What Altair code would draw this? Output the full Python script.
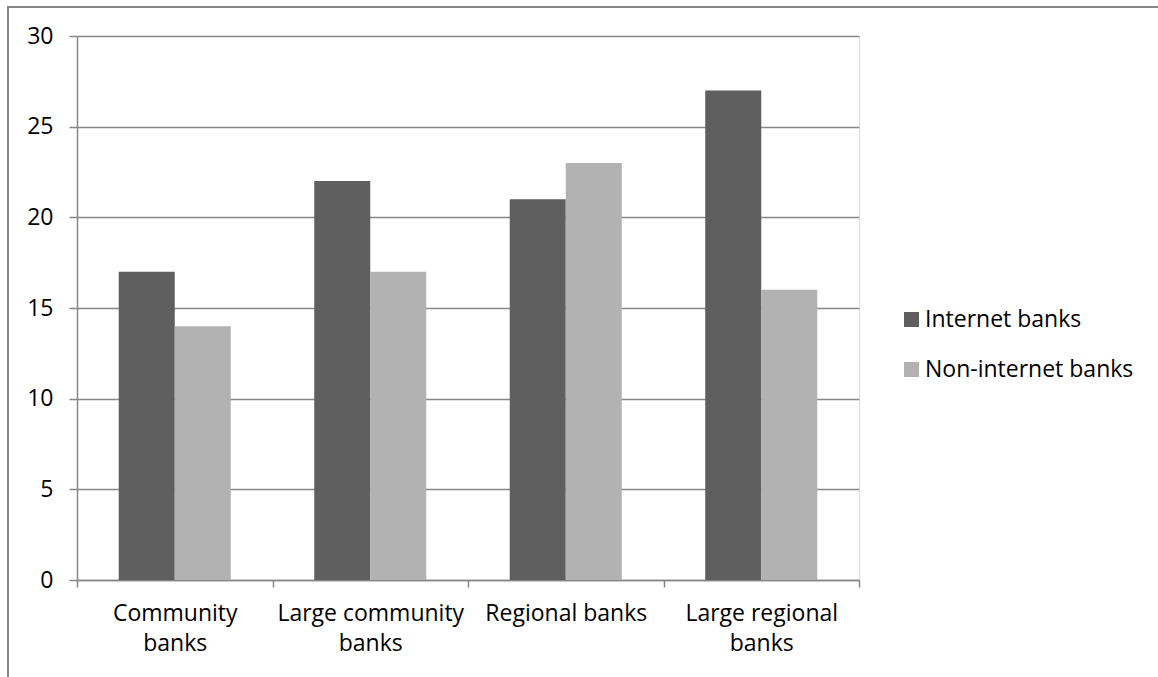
import altair as alt
import pandas as pd

# Bank groups and the two series plotted for each
categories = ["Community banks", "Large community banks", "Regional banks", "Large regional banks"]
series = ["Internet banks", "Non-internet banks"]
internet_values = [17, 22, 21, 27]
non_internet_values = [14, 17, 23, 16]

rows = []
for cat, a, b in zip(categories, internet_values, non_internet_values):
    rows.append({"category": cat, "series": series[0], "value": a})
    rows.append({"category": cat, "series": series[1], "value": b})
df = pd.DataFrame(rows)

FONT = "Open Sans"
FONT_SIZE = 23
GRID = "#878787"

# Wrap long category names onto two lines at the last space
label_expr = (
    "datum.label == 'Regional banks' ? datum.label : "
    "[substring(datum.label, 0, lastindexof(datum.label, ' ')), "
    "substring(datum.label, lastindexof(datum.label, ' ') + 1)]"
)

bars = alt.Chart(df).mark_bar().encode(
    x=alt.X(
        "category:N",
        sort=categories,
        title=None,
        scale=alt.Scale(paddingInner=0, paddingOuter=0),
        axis=alt.Axis(
            labelAngle=0,
            labelExpr=label_expr,
            labelFont=FONT,
            labelFontSize=FONT_SIZE,
            labelColor="#000000",
            labelPadding=15,
            labelLineHeight=30,
            labelLimit=300,
            tickBand="extent",
            tickSize=7,
            tickColor=GRID,
            tickWidth=1.5,
            domainColor=GRID,
            domainWidth=1.5,
            grid=False,
        ),
    ),
    xOffset=alt.XOffset(
        "series:N",
        sort=series,
        scale=alt.Scale(paddingInner=0, paddingOuter=0.745),
    ),
    y=alt.Y(
        "value:Q",
        title=None,
        scale=alt.Scale(domain=[0, 30], nice=False),
        axis=alt.Axis(
            values=[0, 5, 10, 15, 20, 25, 30],
            labelFont=FONT,
            labelFontSize=FONT_SIZE,
            labelColor="#000000",
            labelPadding=16,
            tickSize=8,
            tickColor=GRID,
            tickWidth=1.5,
            domainColor=GRID,
            domainWidth=1.5,
            gridColor=GRID,
            gridWidth=1.5,
        ),
    ),
    color=alt.Color(
        "series:N",
        sort=series,
        title=None,
        scale=alt.Scale(domain=series, range=["#5f5f5f", "#b2b2b2"]),
        legend=alt.Legend(
            orient="none",
            legendX=823,
            legendY=272,
            symbolType="square",
            symbolSize=225,
            symbolStrokeWidth=0,
            labelFont=FONT,
            labelFontSize=FONT_SIZE,
            labelColor="#000000",
            labelOffset=2,
            labelLimit=400,
            rowPadding=26,
        ),
    ),
)

# Outer chart frame
frame = alt.Chart(pd.DataFrame({"f": [0]})).mark_rect(
    fill=None, stroke=GRID, strokeWidth=2
).encode(
    x=alt.value(-69),
    x2=alt.value(1200),
    y=alt.value(-29),
    y2=alt.value(700),
)

chart = (
    alt.layer(frame, bars)
    .properties(
        width=782,
        height=544,
        padding={"left": 77, "top": 36, "right": 299, "bottom": 97},
        autosize=alt.AutoSizeParams(type="none"),
    )
    .configure_view(stroke=None)
    .configure(background="#ffffff")
)

chart.save("out.html", embed_options={"renderer": "svg", "actions": False})
